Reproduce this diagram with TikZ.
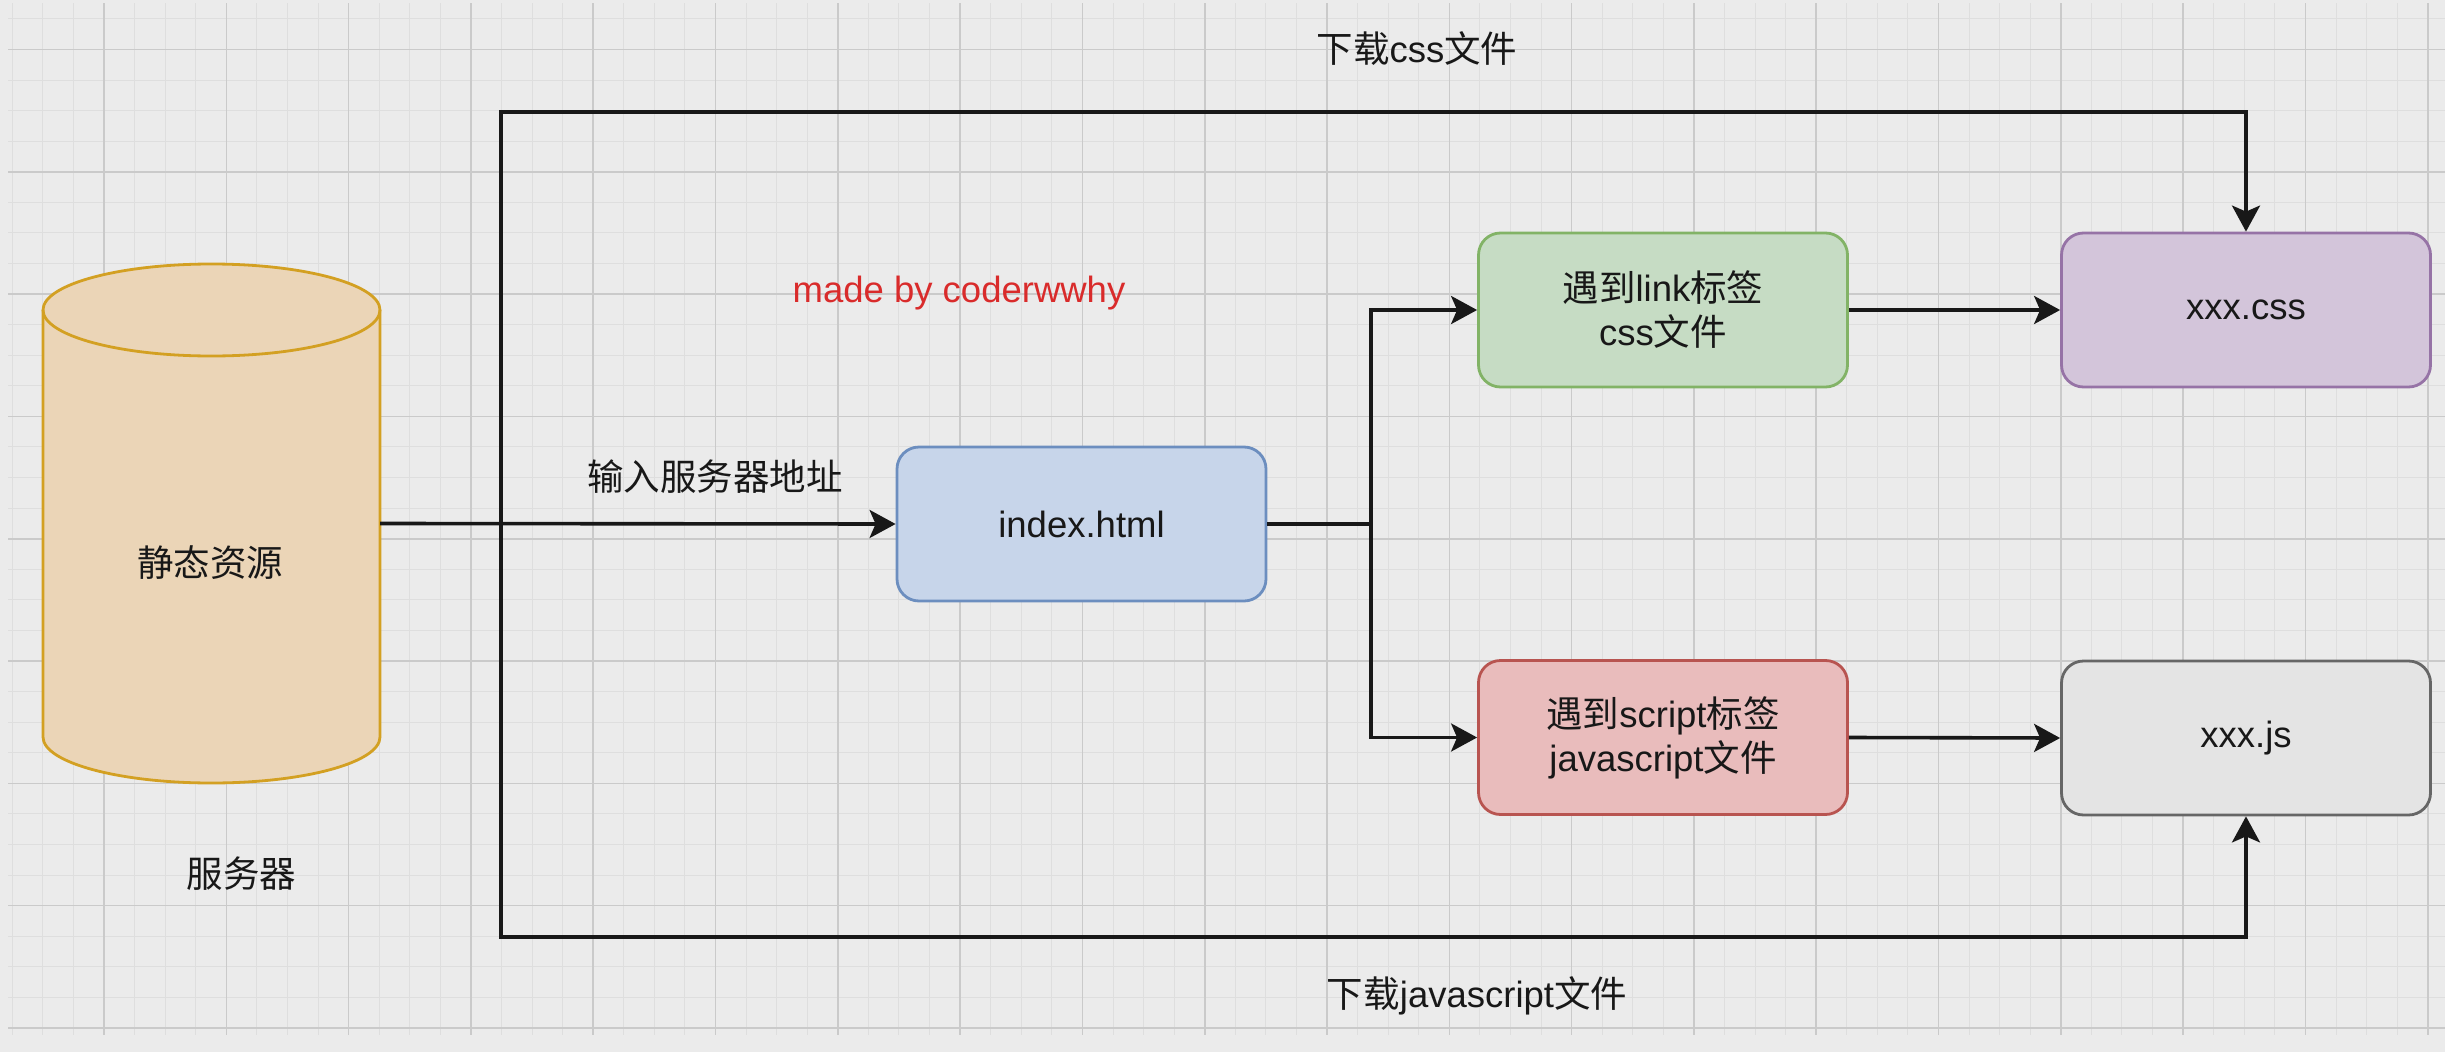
\documentclass[tikz,border=0pt]{standalone}
\usepackage{fontspec}
\setmainfont{Liberation Sans}
\newfontfamily\cjk{Noto Sans CJK SC}
\usetikzlibrary{arrows.meta}
\newcommand{\zhtxt}[1]{{\cjk #1}}

\definecolor{bgc}{HTML}{EBEBEB}
\definecolor{gridminor}{HTML}{DEDEDE}
\definecolor{gridmajor}{HTML}{CACACA}
\definecolor{cylfill}{HTML}{EBD5B7}
\definecolor{cylline}{HTML}{D3A022}
\definecolor{bluefill}{HTML}{C7D5EA}
\definecolor{blueline}{HTML}{6C8EBF}
\definecolor{greenfill}{HTML}{C6DCC4}
\definecolor{greenline}{HTML}{82B366}
\definecolor{purplefill}{HTML}{D3C5DA}
\definecolor{purpleline}{HTML}{9673A6}
\definecolor{redfill}{HTML}{E9BCBC}
\definecolor{redline}{HTML}{B85450}
\definecolor{greyfill}{HTML}{E4E4E4}
\definecolor{greyline}{HTML}{666666}
\definecolor{ink}{HTML}{181818}
\definecolor{wm}{HTML}{D92B2B}

\begin{document}
\begin{tikzpicture}[x=1pt,y=-1pt,
  every node/.style={font=\fontsize{36.5}{44}\selectfont, text=ink},
  lbl/.style={inner sep=0pt, align=center},
  box/.style={rectangle, rounded corners=22pt, line width=2.8pt,
    minimum width=369pt, minimum height=154pt, align=center, inner sep=0pt},
  conn/.style={line width=3.6pt, draw=ink},
  arr/.style={conn, -{Stealth[length=26pt,width=28pt,inset=6pt]}},
  gminor/.style={draw=gridminor, line width=1pt},
  gmajor/.style={draw=gridmajor, line width=1.6pt}]

% page background
\fill[bgc] (0,0) rectangle (2445,1052);
\useasboundingbox (0,0) rectangle (2445,1052);

% canvas grid
\begin{scope}
  \clip (8,3) rectangle (2445,1035);
  \foreach \k in {0,...,79}
    \draw[gminor] ({12.3+30.575*\k},3) -- ++(0,1032);
  \foreach \k in {0,...,33}
    \draw[gminor] (8,{18.9+30.575*\k}) -- (2445,{18.9+30.575*\k});
  \foreach \k in {0,...,19}
    \draw[gmajor] ({104+122.3*\k},3) -- ++(0,1032);
  \foreach \k in {0,...,8}
    \draw[gmajor] (8,{49.5+122.3*\k}) -- (2445,{49.5+122.3*\k});
\end{scope}

% database cylinder
\path[fill=cylfill, draw=cylline, line width=2.8pt]
  (43,310) -- (43,737) arc[start angle=180,end angle=0,x radius=168.5,y radius=46]
  -- (380,310) arc[start angle=0,end angle=-180,x radius=168.5,y radius=46] -- cycle;
\draw[cylline, line width=2.8pt]
  (43,310) arc[start angle=180,end angle=0,x radius=168.5,y radius=46];
\node[minimum width=337pt, minimum height=520pt, inner sep=0pt] (db) at (211.5,523.5) {};
\node[lbl] (dbtext) at (210,563) {\zhtxt{静态资源}};
\node[lbl] (server) at (241.5,874) {\zhtxt{服务器}};

% boxes
\node[box, fill=bluefill, draw=blueline] (idx) at (1081.5,524) {index.html};
\node[box, fill=greenfill, draw=greenline] (link) at (1663,310)
  {\zhtxt{遇到}link\zhtxt{标签}\\css\zhtxt{文件}};
\node[box, fill=purplefill, draw=purpleline] (css) at (2246,310) {xxx.css};
\node[box, fill=redfill, draw=redline] (scr) at (1663,737.5)
  {\zhtxt{遇到}script\zhtxt{标签}\\javascript\zhtxt{文件}};
\node[box, fill=greyfill, draw=greyline] (js) at (2246,738) {xxx.js};

% labels
\node[lbl] (lcss) at (1417,49) {\zhtxt{下载}css\zhtxt{文件}};
\node[lbl] (ljs) at (1477,996) {\zhtxt{下载}javascript\zhtxt{文件}};
\node[lbl] (lurl) at (715,477) {\zhtxt{输入服务器地址}};
\node[lbl, text=wm] (mark) at (959,293) {made by coderwwhy};

% junction points
\coordinate (ttop) at (501,111.7);
\coordinate (tbot) at (501,937);
\coordinate (fork) at (1371,524);

% connectors
\draw[arr] (db.east) -- (idx.west);
\draw[arr] (db.east) -| (ttop) -| (css.north);
\draw[arr] (db.east) -| (tbot) -| (js.south);
\draw[arr] (idx.east) -- (fork) |- (link.west);
\draw[arr] (fork) |- (scr.west);
\draw[arr] (link.east) -- (css.west);
\draw[arr] (scr.east) -- (js.west);

\end{tikzpicture}
\end{document}
